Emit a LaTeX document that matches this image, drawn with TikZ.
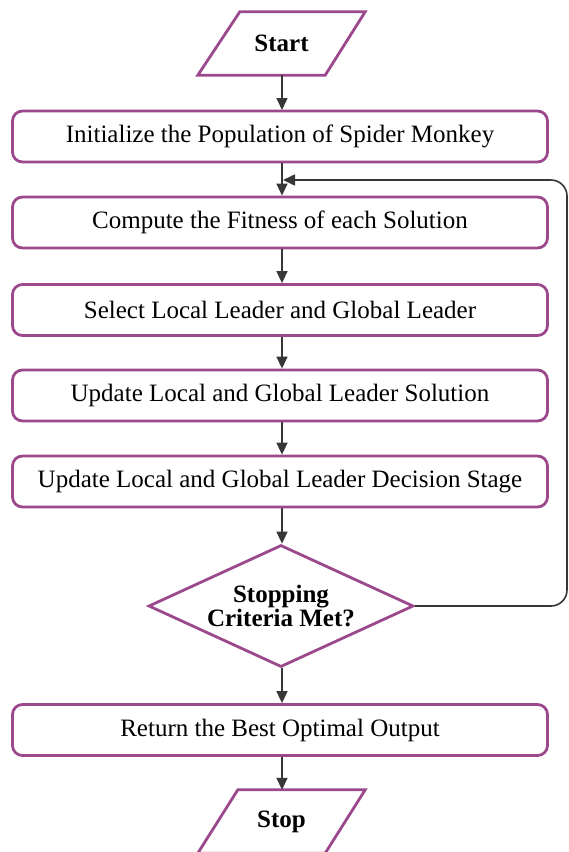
\documentclass[tikz,border=0pt]{standalone}
\usepackage{fontspec}
\setmainfont{Liberation Serif}
\usetikzlibrary{shapes.geometric,arrows.meta}
\definecolor{pur}{RGB}{155,72,140}
\definecolor{arr}{RGB}{55,55,55}
\begin{document}
\begin{tikzpicture}[x=1pt,y=-1pt,
  stepbox/.style={draw=pur,line width=2.8pt,rounded corners=10pt,minimum width=535pt,minimum height=51pt,inner sep=0pt,font=\fontsize{25}{25}\selectfont},
  io/.style={minimum width=167pt,minimum height=63pt,inner sep=0pt,font=\fontsize{25}{25}\selectfont\bfseries},
  para/.style={draw=pur,line width=2.8pt,line join=miter},
  dec/.style={draw=pur,line width=2.8pt,diamond,aspect=2.17,minimum width=265pt,minimum height=122pt,inner sep=0pt,align=center,font=\fontsize{25}{24}\selectfont\bfseries},
  flow/.style={draw=arr,line width=1.6pt,-{Triangle[length=12pt,width=11pt]}}]
\useasboundingbox (0,0) rectangle (569,852);
\node[io] (start) at (281.5,43.5) {Start};
\draw[para] ([xshift=42pt]start.north west) -- (start.north east) -- ([xshift=-40pt]start.south east) -- (start.south west) -- cycle;
\node[stepbox] (b1) at (280,136.5) {Initialize the Population of Spider Monkey};
\node[stepbox] (b2) at (280,222.5) {Compute the Fitness of each Solution};
\node[stepbox] (b3) at (280,310) {Select Local Leader and Global Leader};
\node[stepbox] (b4) at (280,395.5) {Update Local and Global Leader Solution};
\node[stepbox] (b5) at (280,481.5) {Update Local and Global Leader Decision Stage};
\node[dec] (d) at (281,606) {Stopping\\Criteria Met?};
\node[stepbox] (b6) at (280,730) {Return the Best Optimal Output};
\node[io] (stop) at (281.5,821.5) {Stop};
\draw[para] ([xshift=40pt]stop.north west) -- (stop.north east) -- ([xshift=-40pt]stop.south east) -- (stop.south west) -- cycle;
\coordinate (x1) at (282,75);
\coordinate (j) at (283,180);
\coordinate (r) at (567,606);
\coordinate (rt) at (567,180);
\draw[flow] (x1) -- (282,110) coordinate (e1);
\draw[flow] (b1.south -| x1) -- (b2.north -| x1);
\draw[flow] (b2.south -| x1) -- (b3.north -| x1);
\draw[flow] (b3.south -| x1) -- (b4.north -| x1);
\draw[flow] (b4.south -| x1) -- (b5.north -| x1);
\draw[flow] (b5.south -| x1) -- (d.north -| x1);
\draw[flow] (d.south -| x1) -- (b6.north -| x1);
\draw[flow] (b6.south -| x1) -- (stop.north -| x1);
\draw[flow,rounded corners=16pt] (d.east) -- (r) -- (rt) -- (j);
\end{tikzpicture}
\end{document}
